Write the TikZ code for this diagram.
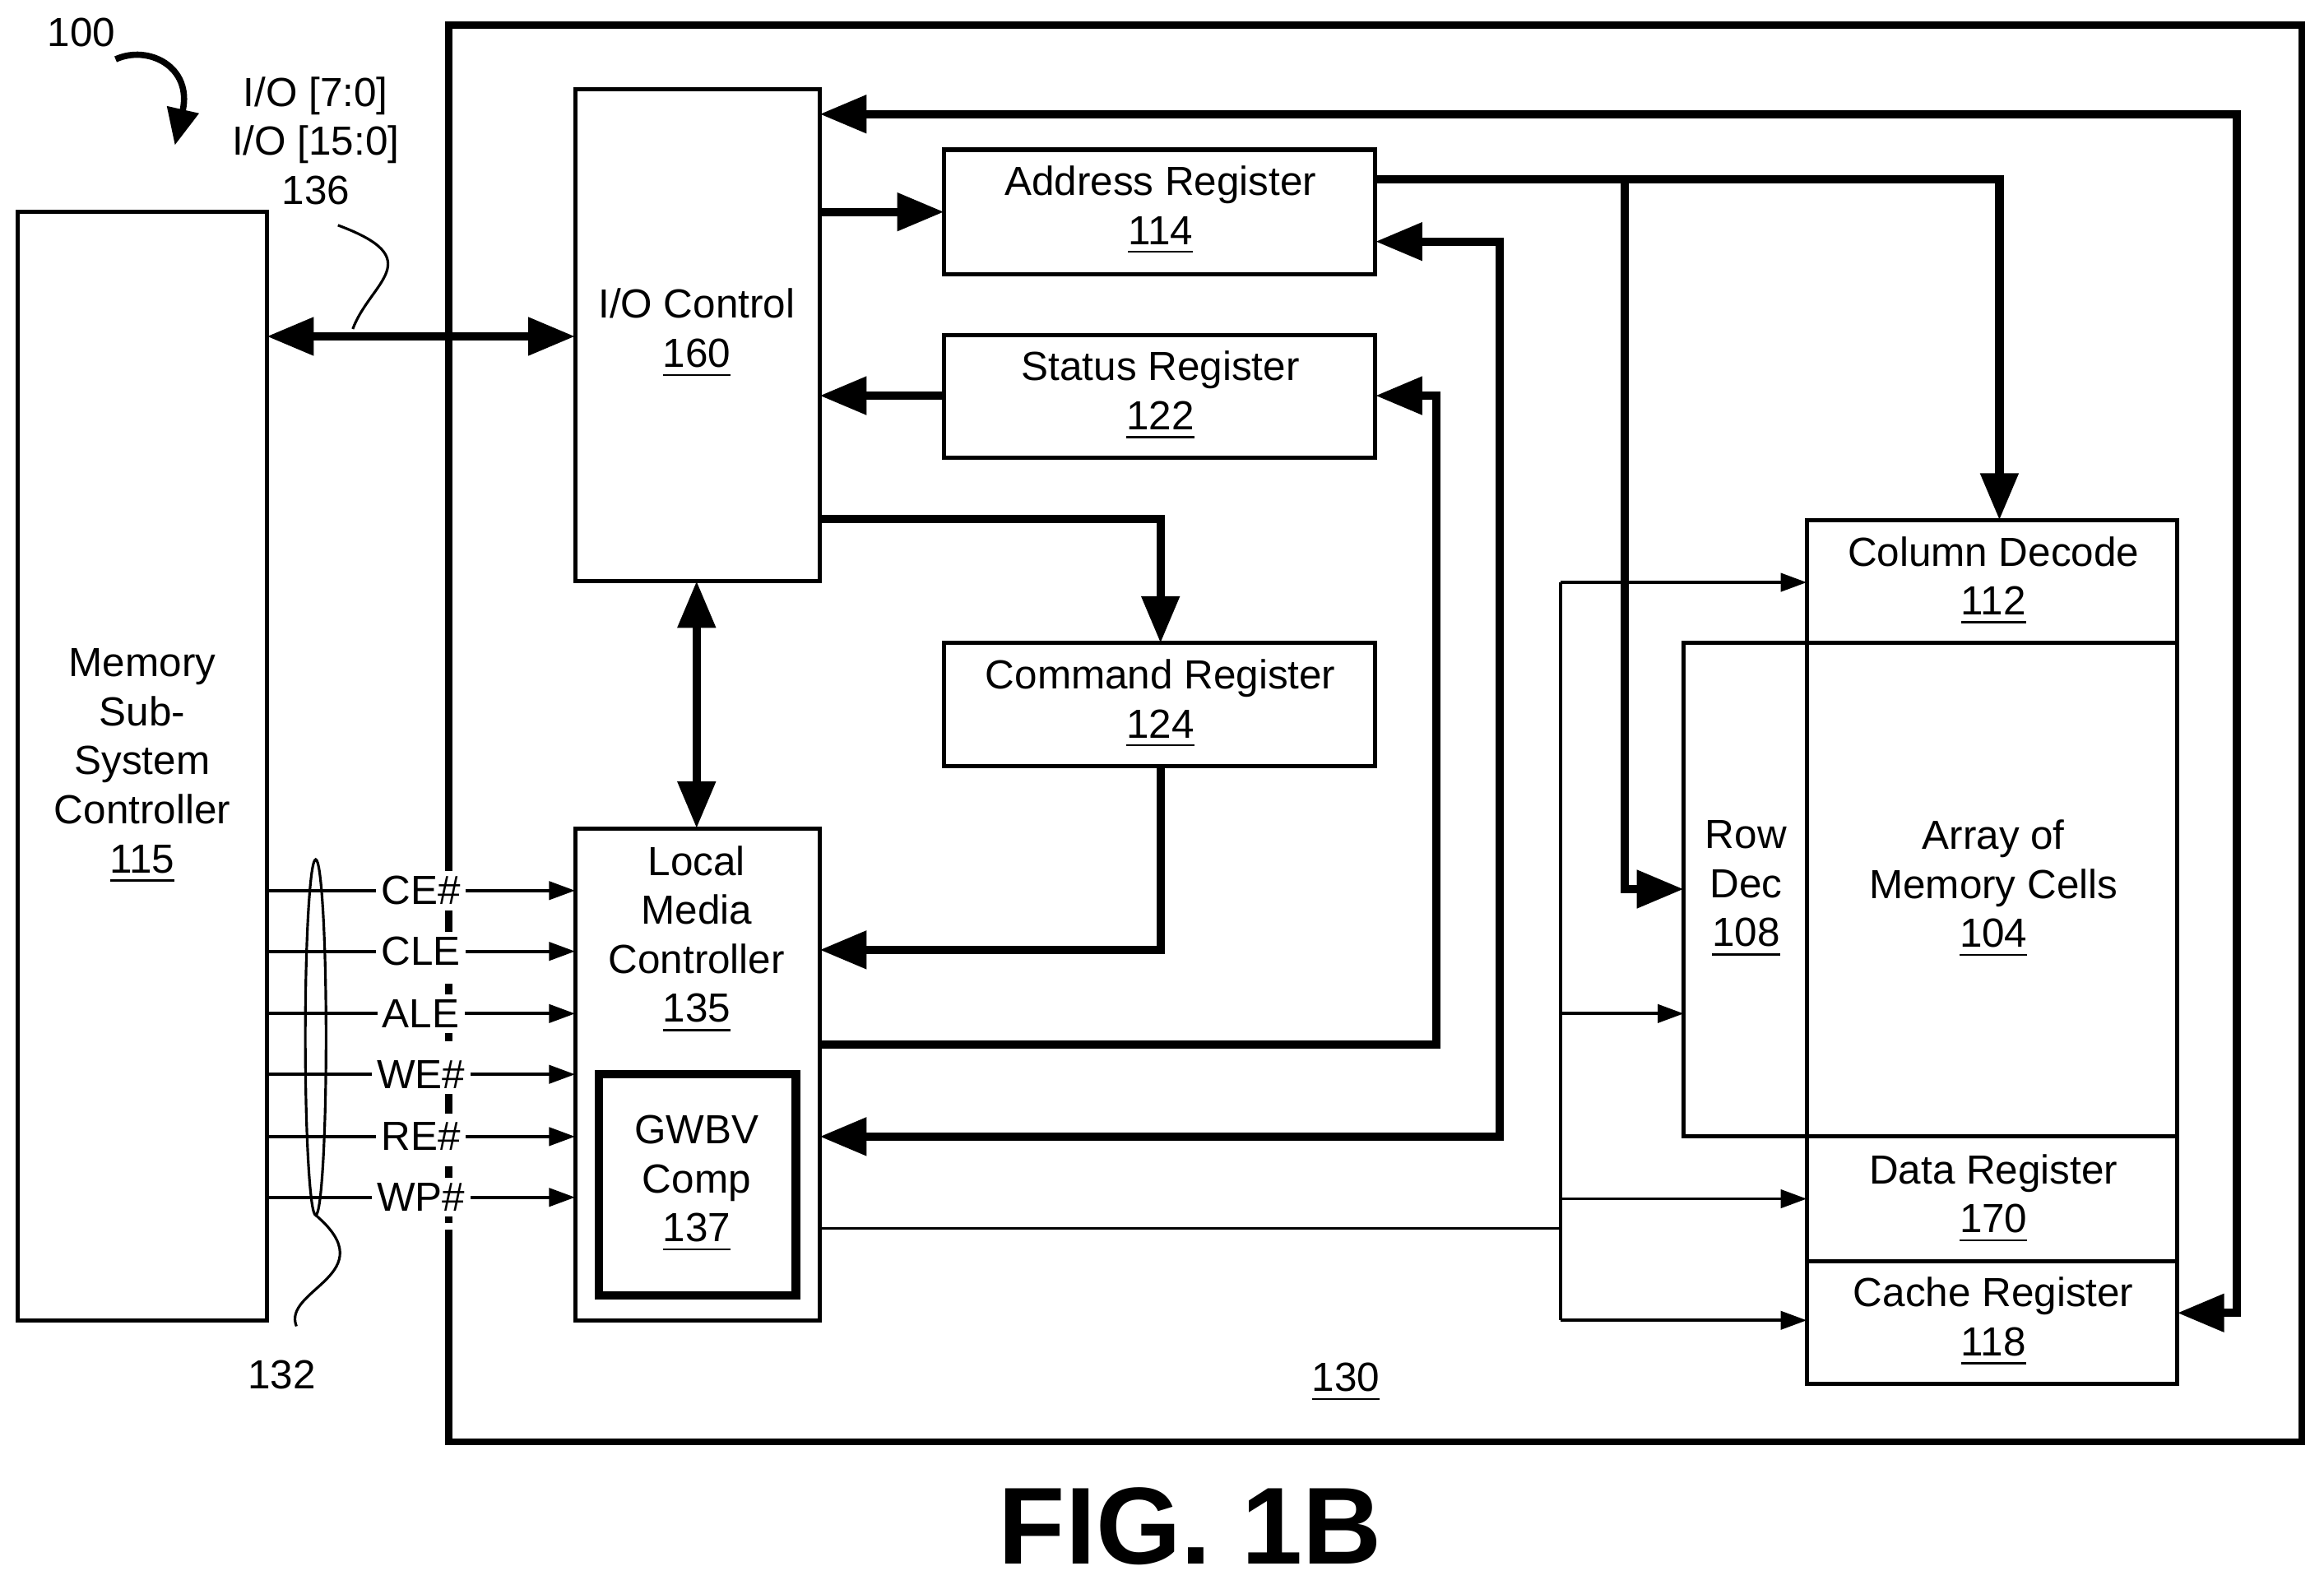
\documentclass[tikz,border=0pt]{standalone}
\usepackage{fontspec}
\setmainfont{Liberation Sans}
\usetikzlibrary{arrows.meta}
\begin{document}
\begin{tikzpicture}[x=0.01cm,y=-0.01cm,
 box/.style={draw,line width=0.8pt},
 thk/.style={line width=1.6pt,-{Triangle[length=9pt,width=7pt]}},
 thkb/.style={line width=1.6pt,{Triangle[length=9pt,width=7pt]}-{Triangle[length=9pt,width=7pt]}},
 thn/.style={line width=0.6pt,-{Triangle[length=5pt,width=3.5pt]}},
 t/.style={font=\fontsize{7.8}{9.4}\selectfont,align=center,inner sep=0pt}]
\useasboundingbox (0,0) rectangle (1568,1066);
% outer box 130
\draw[line width=1.4pt] (303,590) -- (303,17) -- (1553,17) -- (1553,973) -- (303,973) -- (303,830);
\draw[line width=1.4pt,dash pattern=on 4pt off 3pt] (303,590) -- (303,830);
% boxes
\draw[box] (12,143) rectangle (180,891);
\node[t] (msc) at (96,517) {Memory\\Sub-\\System\\Controller\\\underline{115}};
\draw[box] (388,60) rectangle (553,392);
\node[t] (ioc) at (470,225) {I/O Control\\\underline{160}};
\draw[box] (637,101) rectangle (928,185);
\node[t] (ar) at (783,142) {Address Register\\\underline{114}};
\draw[box] (637,226) rectangle (928,309);
\node[t] (sr) at (783,267) {Status Register\\\underline{122}};
\draw[box] (637,434) rectangle (928,517);
\node[t] (cr) at (783,475) {Command Register\\\underline{124}};
\draw[box] (388,559) rectangle (553,891);
\node[t] (lmc) at (470,634) {Local\\Media\\Controller\\\underline{135}};
\draw[line width=1.6pt] (404,725) rectangle (537,874);
\node[t] (gw) at (470,799) {GWBV\\Comp\\\underline{137}};
\draw[box] (1219,351) rectangle (1469,434);
\node[t] (cd) at (1345,392) {Column Decode\\\underline{112}};
\draw[box] (1136,434) rectangle (1219,767);
\node[t] (rd) at (1178,600) {Row\\Dec\\\underline{108}};
\draw[box] (1219,434) rectangle (1469,767);
\node[t] (arr) at (1345,600) {Array of\\Memory Cells\\\underline{104}};
\draw[box] (1219,767) rectangle (1469,851);
\node[t] (dr) at (1345,809) {Data Register\\\underline{170}};
\draw[box] (1219,851) rectangle (1469,934);
\node[t] (cach) at (1345,892) {Cache Register\\\underline{118}};
\node[t] (l130) at (908,933) {\underline{130}};
\node[t] (l100) at (55,22) {100};
\node[t] (lio) at (213,95) {I/O [7:0]\\I/O [15:0]\\136};
\node[t] (l132) at (190,928) {132};
\node[font=\bfseries\fontsize{21}{24}\selectfont,inner sep=0pt] (fig) at (803,1030) {FIG. 1B};
% 100 arrow
\draw[line width=1.2pt,-{Triangle[length=7pt,width=6pt]}] (78,40) .. controls (100,30) and (130,45) .. (118,98);
% thick connectors
\draw[thkb] (180,227) -- (388,227);
\draw[line width=0.5pt] (228,152) .. controls (290,175) and (250,190) .. (238,222);
\draw[thk] (553,143) -- (637,143);
\draw[thk] (637,267) -- (553,267);
\draw[thk] (553,350) -- (783,350) -- (783,434);
\draw[thkb] (470,392) -- (470,559);
\draw[thk] (783,517) -- (783,641) -- (553,641);
\draw[thk] (553,705) -- (969,705) -- (969,267) -- (928,267);
\draw[thkb] (928,163) -- (1012,163) -- (1012,767) -- (553,767);
\draw[thkb] (553,77) -- (1509,77) -- (1509,886) -- (1469,886);
\draw[thk] (928,121) -- (1349,121) -- (1349,351);
\draw[thk] (1096,121) -- (1096,600) -- (1136,600);
% thin connectors
\draw[line width=0.6pt] (553,829) -- (1053,829);
\draw[line width=0.6pt] (1053,393) -- (1053,891);
\draw[thn] (1053,393) -- (1219,393);
\draw[thn] (1053,684) -- (1136,684);
\draw[thn] (1053,809) -- (1219,809);
\draw[thn] (1053,891) -- (1219,891);
% control signals
\foreach \y/\s in {601/CE\#,642/CLE,684/ALE,725/WE\#,767/RE\#,808/WP\#}{
 \draw[thn] (180,\y) -- (388,\y);
 \node[t,fill=white,inner sep=1pt] at (284,\y) {\s};
}
\draw[line width=0.5pt] (213,700) ellipse (7 and 120);
\draw[line width=0.5pt] (213,820) .. controls (260,860) and (190,870) .. (200,895);
\end{tikzpicture}
\end{document}
